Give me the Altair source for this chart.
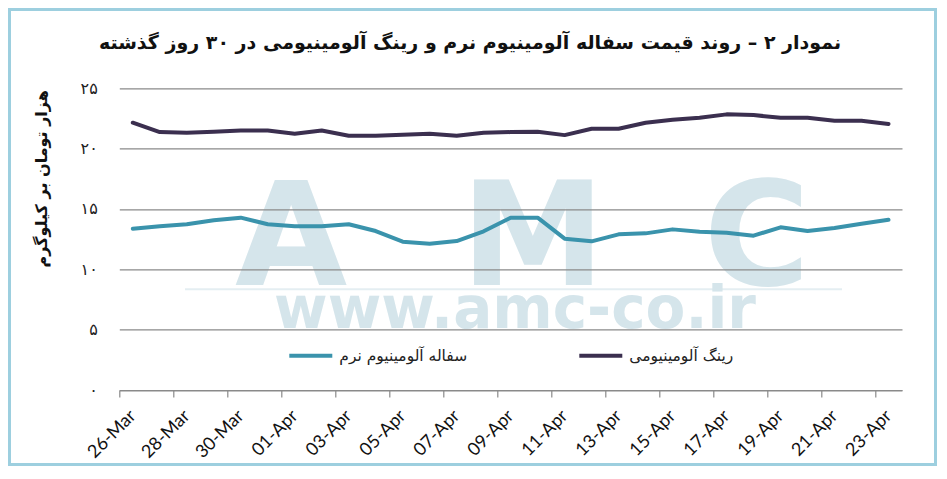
import altair as alt
import pandas as pd

dates = ["26-Mar", "27-Mar", "28-Mar", "29-Mar", "30-Mar", "31-Mar",
         "01-Apr", "02-Apr", "03-Apr", "04-Apr", "05-Apr", "06-Apr", "07-Apr",
         "08-Apr", "09-Apr", "10-Apr", "11-Apr", "12-Apr", "13-Apr", "14-Apr",
         "15-Apr", "16-Apr", "17-Apr", "18-Apr", "19-Apr", "20-Apr", "21-Apr",
         "22-Apr", "23-Apr"]
ring = [22.15, 21.37, 21.32, 21.40, 21.50, 21.50, 21.24, 21.50, 21.07, 21.07,
        21.15, 21.24, 21.07, 21.32, 21.37, 21.40, 21.12, 21.65, 21.65, 22.15,
        22.40, 22.56, 22.84, 22.78, 22.56, 22.56, 22.31, 22.31, 22.04]
sofaleh = [13.36, 13.56, 13.73, 14.06, 14.28, 13.73, 13.56, 13.56, 13.73, 13.17,
           12.29, 12.12, 12.34, 13.15, 14.28, 14.28, 12.54, 12.32, 12.90, 12.98,
           13.31, 13.12, 13.03, 12.79, 13.48, 13.17, 13.42, 13.78, 14.11]
series_names = ["سفاله آلومینیوم نرم", "رینگ آلومینیومی"]
series_colors = ["#3a93ac", "#3b2f4f"]
y_ticks = [0, 5, 10, 15, 20, 25]
y_tick_labels = ["۰", "۵", "۱۰", "۱۵", "۲۰", "۲۵"]
title_text = ["نمودار ۲ – روند قیمت سفاله آلومینیوم نرم و رینگ آلومینیومی در ۳۰ روز گذشته"]
y_title = "هزار تومان بر کیلوگرم"
watermark_letters = ["A", "M", "C"]
watermark_url = ["www.amc-co.ir"]

rows = []
for i, d in enumerate(dates):
    rows.append({"idx": i, "date": d, "series": series_names[0], "value": sofaleh[i]})
    rows.append({"idx": i, "date": d, "series": series_names[1], "value": ring[i]})
df = pd.DataFrame(rows)

W, H = 782.7, 301.7
half = W / len(dates) / 2
x_tick_vals = [i - 0.5 for i in range(0, len(dates), 2)]
x_label_expr = "[" + ",".join("'%s'" % d for d in dates) + "][round(datum.value + 0.5)]"
y_label_expr = "[" + ",".join("'%s'" % t for t in y_tick_labels) + "][round(datum.value / 5)]"

GRAY = "#8a8a8a"
WM = "#d5e5eb"

lines = alt.Chart(df).mark_line(strokeWidth=4, strokeCap="round", strokeJoin="round").encode(
    x=alt.X("idx:Q",
            scale=alt.Scale(domain=[-0.5, len(dates) - 0.5], nice=False, zero=False),
            axis=alt.Axis(values=x_tick_vals, labelExpr=x_label_expr, labelOffset=half,
                          labelAngle=-45, labelAlign="right", labelBaseline="middle",
                          labelFont="Lato", labelFontSize=18, labelColor="#111",
                          labelPadding=16, labelOverlap=False, labelBound=False, labelFlush=False,
                          grid=False, domainColor=GRAY, domainWidth=1.2, tickColor=GRAY,
                          tickSize=7, tickWidth=1.2, title=None, zindex=1)),
    y=alt.Y("value:Q",
            scale=alt.Scale(domain=[0, 25], nice=False, zero=True),
            axis=alt.Axis(values=y_ticks, labelExpr=y_label_expr, title=y_title,
                          titleFont="DejaVu Sans", titleFontSize=16, titleFontWeight="bold",
                          titleColor="#111", titleX=-78, titleY=90, titleAngle=270,
                          titleAlign="center", titleBaseline="middle",
                          grid=True, gridColor=GRAY, gridWidth=1.2, domain=False, ticks=False,
                          labelPadding=22, labelFont="DejaVu Sans", labelFontSize=16,
                          labelColor="#222", zindex=1)),
    color=alt.Color("series:N",
                    scale=alt.Scale(domain=series_names, range=series_colors),
                    legend=alt.Legend(title=None, orient="none", legendX=168, legendY=244,
                                      direction="horizontal", symbolType="stroke",
                                      symbolStrokeWidth=4, symbolSize=1849,
                                      labelFont="DejaVu Sans", labelFontSize=15.5,
                                      labelColor="#222", labelOffset=5, columnPadding=104)),
    detail="series:N",
)

frame = alt.Chart(pd.DataFrame({"k": [0]})).mark_rect(
    fillOpacity=0, stroke="#9dcfdf", strokeWidth=3
).encode(x=alt.value(-109.8), x2=alt.value(816.2), y=alt.value(-78.8), y2=alt.value(376.2))

wm_x = [171.7, 413.7, 637.7]
wm_layers = []
for letter, xv in zip(watermark_letters, wm_x):
    wm_layers.append(
        alt.Chart(pd.DataFrame({"t": [letter]})).mark_text(
            font="DejaVu Sans", fontWeight="bold", fontSize=145, color=WM,
            align="center", baseline="alphabetic"
        ).encode(text="t:N", x=alt.value(xv), y=alt.value(196.7))
    )

wm_rule = alt.Chart(pd.DataFrame({"k": [0]})).mark_rule(color="#e4eef2", strokeWidth=2).encode(
    x=alt.value(65.7), x2=alt.value(722.7), y=alt.value(201))

wm_url = alt.Chart(pd.DataFrame({"t": watermark_url})).mark_text(
    font="DejaVu Sans", fontWeight="bold", fontSize=58, color=WM,
    align="center", baseline="alphabetic"
).encode(text="t:N", x=alt.value(395.7), y=alt.value(239.7))

title = alt.Chart(pd.DataFrame({"t": title_text})).mark_text(
    font="DejaVu Sans", fontWeight="bold", fontSize=19, color="#111",
    align="center", baseline="alphabetic"
).encode(text="t:N", x=alt.value(350.7), y=alt.value(-39))

chart = alt.layer(frame, *wm_layers, wm_rule, wm_url, title, lines).properties(
    width=W, height=H,
    padding={"left": 111.3, "top": 80.3, "right": 35, "bottom": 76},
    autosize=alt.AutoSizeParams(type="none"),
    background="white",
).configure_view(stroke=None)

chart.save("out.html", embed_options={"renderer": "svg", "actions": False})
